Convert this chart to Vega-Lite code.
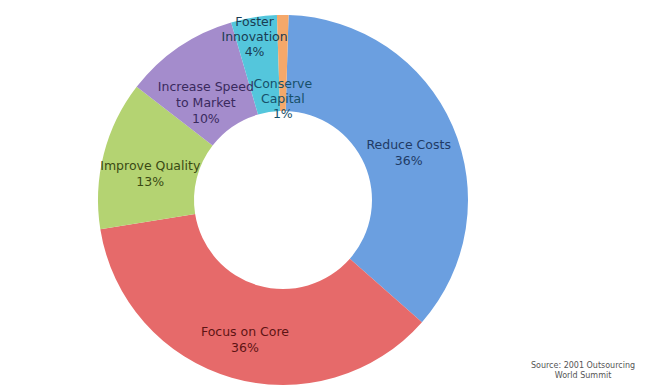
{
  "$schema": "https://vega.github.io/schema/vega-lite/v6.json",
  "width": 566,
  "height": 374,
  "autosize": {"type": "none"},
  "padding": {"left": 0, "top": 13, "right": 80, "bottom": 0},
  "background": "white",
  "view": {"stroke": null},
  "title": {
    "text": ["Source: 2001 Outsourcing", "World Summit"],
    "orient": "bottom",
    "anchor": "end",
    "align": "center",
    "offset": -25,
    "dx": 17,
    "fontSize": 8,
    "fontWeight": "normal",
    "color": "#555555",
    "font": "DejaVu Sans",
    "lineHeight": 10
  },
  "data": {
    "values": [
      {"category": "Reduce Costs", "share": 36, "label": "Reduce Costs\n36%"},
      {"category": "Focus on Core", "share": 36, "label": "Focus on Core\n36%"},
      {"category": "Improve Quality", "share": 13, "label": "Improve Quality\n13%"},
      {"category": "Increase Speed to Market", "share": 10, "label": "Increase Speed\nto Market\n10%"},
      {"category": "Foster Innovation", "share": 4, "label": "Foster\nInnovation\n4%"},
      {"category": "Conserve Capital", "share": 1, "label": "Conserve\nCapital\n1%"}
    ]
  },
  "transform": [{"window": [{"op": "row_number", "as": "idx"}]}],
  "resolve": {"scale": {"color": "independent"}},
  "layer": [
    {
      "mark": {"type": "arc", "innerRadius": 89, "outerRadius": 185},
      "encoding": {
        "theta": {"field": "share", "type": "quantitative", "stack": true, "scale": {"range": [0.03, 6.3132]}},
        "order": {"field": "idx", "type": "quantitative"},
        "color": {
          "field": "category",
          "type": "nominal",
          "legend": null,
          "scale": {
            "domain": ["Reduce Costs", "Focus on Core", "Improve Quality", "Increase Speed to Market", "Foster Innovation", "Conserve Capital"],
            "range": ["#6b9fe0", "#e66a6a", "#b4d372", "#a48ccc", "#54c6dc", "#f5a86a"]
          }
        }
      }
    },
    {
      "mark": {"type": "text", "radius": 137, "font": "DejaVu Sans", "fontSize": 12.5, "lineBreak": "\n", "lineHeight": 16, "align": "center", "baseline": "middle"},
      "encoding": {
        "theta": {"field": "share", "type": "quantitative", "stack": true, "scale": {"range": [0.03, 6.3132]}},
        "order": {"field": "idx", "type": "quantitative"},
        "text": {"condition": {"test": "datum.category !== 'Foster Innovation' && datum.category !== 'Conserve Capital'", "field": "label"}, "value": ""},
        "color": {
          "field": "category",
          "type": "nominal",
          "legend": null,
          "scale": {
            "domain": ["Reduce Costs", "Focus on Core", "Improve Quality", "Increase Speed to Market", "Foster Innovation", "Conserve Capital"],
            "range": ["#1f3b66", "#5e1414", "#3a4a14", "#3a2a5e", "#1a3c52", "#17506a"]
          }
        }
      }
    },
    {
      "mark": {"type": "text", "radius": 180, "font": "DejaVu Sans", "fontSize": 12.5, "lineBreak": "\n", "lineHeight": 15, "align": "center", "baseline": "middle"},
      "encoding": {
        "theta": {"field": "share", "type": "quantitative", "stack": true, "scale": {"range": [0.03, 6.3132]}},
        "order": {"field": "idx", "type": "quantitative"},
        "text": {"condition": {"test": "datum.category === 'Foster Innovation'", "field": "label"}, "value": ""},
        "color": {
          "field": "category",
          "type": "nominal",
          "legend": null,
          "scale": {
            "domain": ["Reduce Costs", "Focus on Core", "Improve Quality", "Increase Speed to Market", "Foster Innovation", "Conserve Capital"],
            "range": ["#1f3b66", "#5e1414", "#3a4a14", "#3a2a5e", "#1a3c52", "#17506a"]
          }
        }
      }
    },
    {
      "mark": {"type": "text", "radius": 116, "font": "DejaVu Sans", "fontSize": 12.5, "lineBreak": "\n", "lineHeight": 15, "align": "center", "baseline": "middle"},
      "encoding": {
        "theta": {"field": "share", "type": "quantitative", "stack": true, "scale": {"range": [0.03, 6.3132]}},
        "order": {"field": "idx", "type": "quantitative"},
        "text": {"condition": {"test": "datum.category === 'Conserve Capital'", "field": "label"}, "value": ""},
        "color": {
          "field": "category",
          "type": "nominal",
          "legend": null,
          "scale": {
            "domain": ["Reduce Costs", "Focus on Core", "Improve Quality", "Increase Speed to Market", "Foster Innovation", "Conserve Capital"],
            "range": ["#1f3b66", "#5e1414", "#3a4a14", "#3a2a5e", "#1a3c52", "#17506a"]
          }
        }
      }
    }
  ]
}
